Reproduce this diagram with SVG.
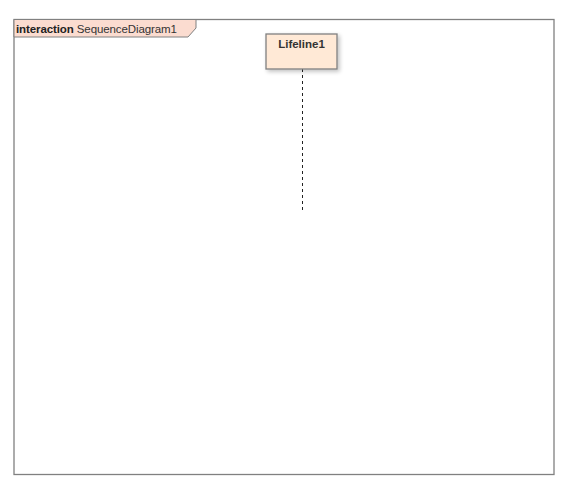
<svg xmlns="http://www.w3.org/2000/svg" width="582" height="493" viewBox="0 0 582 493">
<style>
.frame{fill:none;stroke:#808080;stroke-width:1.3}
.tab{fill:#fbdcd0;stroke:#808080;stroke-width:1}
.lbl{font-family:"Liberation Sans",Arial,sans-serif;font-size:11.5px;fill:#333}
.box{fill:#ffe9d6;stroke:#808080;stroke-width:1.3}
.life{stroke:#222;stroke-width:1;stroke-dasharray:3,3;fill:none}
</style>
<defs>
<filter id="sh" x="-20%" y="-20%" width="150%" height="160%">
<feGaussianBlur in="SourceAlpha" stdDeviation="2"/>
<feOffset dx="2" dy="2" result="b"/>
<feComponentTransfer><feFuncA type="linear" slope="0.25"/></feComponentTransfer>
<feMerge><feMergeNode/><feMergeNode in="SourceGraphic"/></feMerge>
</filter>
</defs>
<g id="frame">
<rect class="frame" x="14" y="19.5" width="540" height="455"/>
<path class="tab" d="M14,19.5 H196 V28 L188,37 H14 Z"/>
<text class="lbl" x="16" y="32.5" letter-spacing="-0.1"><tspan font-weight="bold" fill="#222">interaction</tspan> SequenceDiagram1</text>
</g>
<g id="connectors">
<line class="life" x1="302.5" y1="69" x2="302.5" y2="213"/>
</g>
<g id="lifeline1">
<rect class="box" x="266" y="34" width="71" height="35" filter="url(#sh)"/>
<text class="lbl" x="301.5" y="47.5" text-anchor="middle" font-weight="bold" fill="#222">Lifeline1</text>
</g>
</svg>
